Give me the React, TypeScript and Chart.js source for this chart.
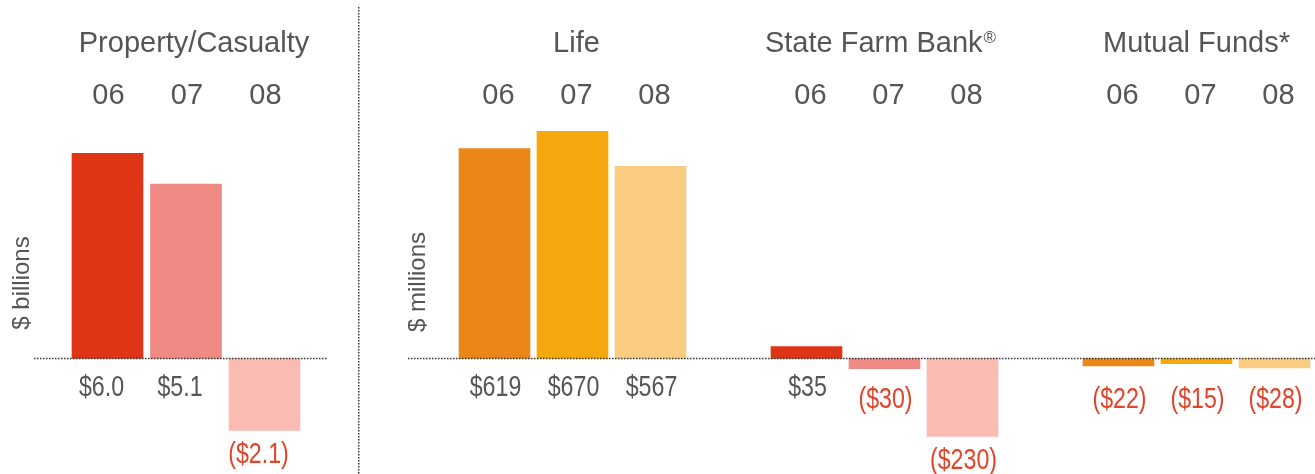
import React, { useEffect, useRef } from 'react';
import { Chart, registerables } from 'chart.js';

Chart.register(...registerables);

// ---------- data ----------
const pcTitle = 'Property/Casualty';
const pcYears = ['06', '07', '08'];
const pcValues = [6.0, 5.1, -2.1];
const pcUnit = '$ billions';

const groupTitles = ['Life', 'State Farm Bank®', 'Mutual Funds*'];
const groupYears = ['06', '07', '08'];
const lifeValues = [619, 670, 567];
const bankValues = [35, -30, -230];
const fundValues = [-22, -15, -28];
const millionsUnit = '$ millions';

// ---------- styles ----------
const redShades = ['#df3416', '#ef8a84', '#f9bbb2'];
const orangeShades = ['#eb8618', '#f5a90f', '#fbcd82'];
const GREY = '#555555';
const NEG = '#e4432a';
const TITLE_FONT = '29px "Liberation Sans", Arial, sans-serif';
const SUP_FONT = '17px "Liberation Sans", Arial, sans-serif';
const YEAR_FONT = '29px "Liberation Sans", Arial, sans-serif';
const VALUE_FONT = '29px "Liberation Sans", Arial, sans-serif';
const VALUE_SQUEEZE = 0.8;
const UNIT_FONT = '24px "Liberation Sans", Arial, sans-serif';

type Cfg = {
  id: string;
  titles: { text: string; idx: number[]; shift: number }[];
  years: string[];
  values: (number | null)[];
  decimals: number;
  unit: string;
  unitX: number;
  unitY: number;
  baseFrom: number;
  baseTo: number;
  separator: boolean;
  yearShift: number;
  valueShift: number;
};

function fmt(v: number, d: number) {
  const s = '$' + Math.abs(v).toFixed(d);
  return v < 0 ? '(' + s + ')' : s;
}

function drawTitle(ctx: CanvasRenderingContext2D, text: string, cx: number, y: number) {
  const hasSup = text.endsWith('®');
  const main = hasSup ? text.slice(0, -1) : text;
  ctx.font = TITLE_FONT;
  const wMain = ctx.measureText(main).width;
  let wSup = 0;
  if (hasSup) {
    ctx.font = SUP_FONT;
    wSup = ctx.measureText('®').width + 1;
  }
  const x0 = cx - (wMain + wSup) / 2;
  ctx.textAlign = 'left';
  ctx.font = TITLE_FONT;
  ctx.fillText(main, x0, y);
  if (hasSup) {
    ctx.font = SUP_FONT;
    ctx.fillText('®', x0 + wMain + 1, y - 9);
  }
  ctx.textAlign = 'center';
}

function makePlugin(cfg: Cfg) {
  return {
    id: cfg.id,
    afterDatasetsDraw(chart: any) {
      const ctx = chart.ctx as CanvasRenderingContext2D;
      const xs = chart.scales.x;
      const ys = chart.scales.y;
      const zeroY = ys.getPixelForValue(0);
      ctx.save();

      // dotted baseline
      ctx.strokeStyle = '#333333';
      ctx.lineWidth = 1.5;
      ctx.setLineDash([1.5, 1.5]);
      ctx.beginPath();
      ctx.moveTo(cfg.baseFrom, zeroY);
      ctx.lineTo(cfg.baseTo, zeroY);
      ctx.stroke();

      if (cfg.separator) {
        ctx.beginPath();
        ctx.moveTo(0.75, 7);
        ctx.lineTo(0.75, chart.height);
        ctx.stroke();
      }
      ctx.setLineDash([]);

      // group titles
      ctx.fillStyle = GREY;
      ctx.textAlign = 'center';
      ctx.textBaseline = 'alphabetic';
      cfg.titles.forEach((t) => {
        const xs0 = xs.getPixelForValue(t.idx[0]);
        const xs1 = xs.getPixelForValue(t.idx[t.idx.length - 1]);
        drawTitle(ctx, t.text, (xs0 + xs1) / 2 + t.shift, 52);
      });

      // year labels
      ctx.font = YEAR_FONT;
      cfg.years.forEach((yr, i) => {
        if (!yr) return;
        ctx.fillText(yr, xs.getPixelForValue(i) + cfg.yearShift, 104);
      });

      // value labels (condensed look)
      ctx.font = VALUE_FONT;
      cfg.values.forEach((v, i) => {
        if (v === null || v === undefined) return;
        const px = xs.getPixelForValue(i) + cfg.valueShift;
        let py: number;
        if (v >= 0) {
          ctx.fillStyle = GREY;
          py = zeroY + 37;
        } else {
          ctx.fillStyle = NEG;
          const bottom = ys.getPixelForValue(v);
          py = Math.max(zeroY + 49, bottom + 33);
        }
        ctx.save();
        ctx.translate(px, py);
        ctx.scale(VALUE_SQUEEZE, 1);
        ctx.fillText(fmt(v, cfg.decimals), 0, 0);
        ctx.restore();
      });

      // unit label
      ctx.fillStyle = GREY;
      ctx.font = UNIT_FONT;
      ctx.translate(cfg.unitX, cfg.unitY);
      ctx.rotate(-Math.PI / 2);
      ctx.textBaseline = 'middle';
      ctx.fillText(cfg.unit, 0, 0);
      ctx.restore();
    },
  };
}

function makeChart(
  canvas: HTMLCanvasElement,
  labels: string[],
  values: (number | null)[],
  colors: string[],
  yMin: number,
  yMax: number,
  padding: { left: number; right: number; top: number; bottom: number },
  cfg: Cfg
) {
  return new Chart(canvas, {
    type: 'bar',
    data: {
      labels,
      datasets: [
        {
          data: values as any,
          backgroundColor: colors,
          borderWidth: 0,
          barThickness: 71,
        },
      ],
    },
    options: {
      animation: false,
      responsive: false,
      devicePixelRatio: 1,
      layout: { padding },
      plugins: { legend: { display: false }, tooltip: { enabled: false }, title: { display: false } },
      scales: {
        x: { type: 'category', display: false, offset: true },
        y: { display: false, min: yMin, max: yMax },
      },
    },
    plugins: [makePlugin(cfg)],
  });
}

export default function App() {
  const leftRef = useRef<HTMLCanvasElement>(null);
  const rightRef = useRef<HTMLCanvasElement>(null);

  useEffect(() => {
    const rightValues: (number | null)[] = [...lifeValues, null, ...bankValues, null, ...fundValues];
    const rightLabels: string[] = [...groupYears, '', ...groupYears, '', ...groupYears];
    const rightColors: string[] = [...orangeShades, '#ffffff', ...redShades, '#ffffff', ...orangeShades];

    const left = makeChart(
      leftRef.current!,
      pcYears,
      pcValues,
      redShades,
      -3,
      10,
      { left: 68.25, right: 54.25, top: 16.5, bottom: 12.9 },
      {
        id: 'pcLabels',
        titles: [{ text: pcTitle, idx: [0, 1, 2], shift: 8 }],
        years: pcYears,
        values: pcValues,
        decimals: 1,
        unit: pcUnit,
        unitX: 22,
        unitY: 283,
        baseFrom: 34,
        baseTo: 327,
        separator: false,
        yearShift: 1,
        valueShift: -6,
      }
    );

    const right = makeChart(
      rightRef.current!,
      rightLabels,
      rightValues,
      rightColors,
      -300,
      1000,
      { left: 97.5, right: 1.5, top: 19.5, bottom: 13.8 },
      {
        id: 'millionLabels',
        titles: [
          { text: groupTitles[0], idx: [0, 1, 2], shift: 4 },
          { text: groupTitles[1], idx: [4, 5, 6], shift: -4 },
          { text: groupTitles[2], idx: [8, 9, 10], shift: 0 },
        ],
        years: rightLabels,
        values: rightValues,
        decimals: 0,
        unit: millionsUnit,
        unitX: 60,
        unitY: 282,
        baseFrom: 50,
        baseTo: 957,
        separator: true,
        yearShift: 4,
        valueShift: 1,
      }
    );

    return () => {
      left.destroy();
      right.destroy();
    };
  }, []);

  return (
    <div style={{ position: 'absolute', left: 0, top: 0, width: 1315, height: 474, background: '#ffffff', overflow: 'hidden' }}>
      <canvas ref={leftRef} width={358} height={474} style={{ position: 'absolute', left: 0, top: 0, width: 358, height: 474 }} />
      <canvas ref={rightRef} width={957} height={474} style={{ position: 'absolute', left: 358, top: 0, width: 957, height: 474 }} />
    </div>
  );
}
